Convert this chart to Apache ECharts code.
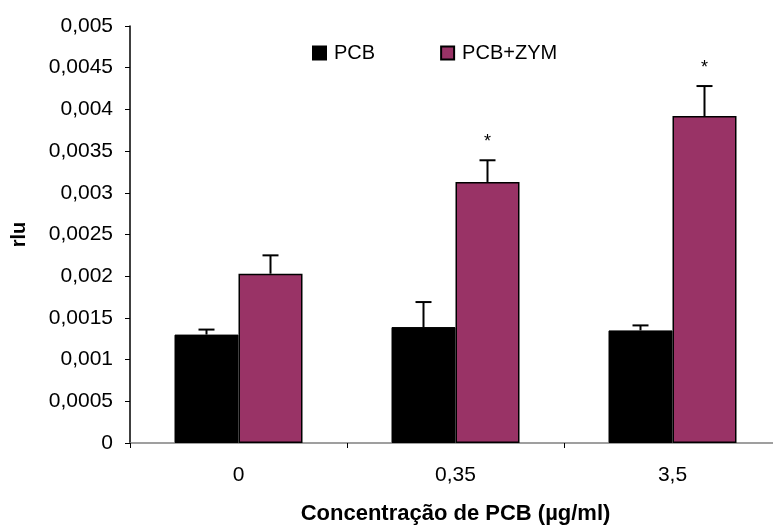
<!DOCTYPE html>
<html>
<head>
<meta charset="utf-8">
<script src="https://cdn.jsdelivr.net/npm/echarts@6/dist/echarts.min.js"></script>
<style>
  html, body { margin: 0; padding: 0; background: #fff; }
  #chart { width: 773px; height: 525px; }
</style>
</head>
<body>
<div id="chart"></div>
<script>
// PCB concentration groups (µg/ml)
const categories = ['0', '0,35', '3,5'];

// Mean luminescence (rlu) and standard error for each treatment
const pcbValues = [0.0013, 0.00139, 0.00135];
const pcbErrors = [0.00006, 0.00030, 0.00006];
const zymValues = [0.00203, 0.00313, 0.00392];
const zymErrors = [0.00022, 0.00026, 0.00036];

// Significance marks above the PCB+ZYM bars
const zymMarks = ['', '*', '*'];

// Y-axis ticks
const yMin = 0;
const yMax = 0.005;
const yStep = 0.0005;

const FONT = "'Liberation Sans', Arial, sans-serif";
const BAR_WIDTH = 64;
const ZYM_COLOR = '#993366';

function fmtComma(v) {
  if (v === 0) return '0';
  return String(+v.toFixed(4)).replace('.', ',');
}

// Upper-only error bars (and optional mark) drawn at a bar's centre
function errorBars(name, values, errors, marks, offset) {
  return {
    type: 'custom',
    name: name,
    z: 5,
    silent: true,
    data: values.map((v, i) => [i, v, errors[i]]),
    encode: { x: 0, y: 1 },
    renderItem: function (params, api) {
      const i = api.value(0);
      const v = api.value(1);
      const e = api.value(2);
      const top = api.coord([i, v]);
      const hi = api.coord([i, v + e]);
      const x = top[0] + offset;
      const children = [
        { type: 'line', shape: { x1: x, y1: top[1], x2: x, y2: hi[1] },
          style: { stroke: '#000', lineWidth: 2 } },
        { type: 'line', shape: { x1: x - 8, y1: hi[1], x2: x + 8, y2: hi[1] },
          style: { stroke: '#000', lineWidth: 2 } }
      ];
      const m = marks ? marks[params.dataIndex] : '';
      if (m) {
        children.push({
          type: 'text',
          style: {
            text: m, x: x, y: hi[1] - 9,
            align: 'center', verticalAlign: 'bottom',
            font: '18px ' + FONT, fill: '#000'
          }
        });
      }
      return { type: 'group', children: children };
    }
  };
}

const chart = echarts.init(document.getElementById('chart'));
chart.setOption({
  animation: false,
  backgroundColor: '#fff',
  textStyle: { fontFamily: FONT },
  grid: { left: 130, right: -8, top: 26, bottom: 82, containLabel: false, outerBoundsMode: 'none' },
  legend: {
    data: ['PCB', 'PCB+ZYM'],
    left: 312, top: 43, padding: 0,
    itemWidth: 13, itemHeight: 13, itemGap: 65,
    icon: 'rect',
    textStyle: { fontSize: 20, color: '#000', fontFamily: FONT, padding: [0, 0, 0, 3] }
  },
  xAxis: {
    type: 'category',
    data: categories,
    name: 'Concentração de PCB (µg/ml)',
    nameLocation: 'middle',
    nameGap: 60,
    nameTextStyle: { fontSize: 22, fontWeight: 'bold', color: '#000', fontFamily: FONT },
    axisLine: { lineStyle: { color: '#808080', width: 1.5 } },
    axisTick: { show: true, length: 5, inside: false, alignWithLabel: false,
                lineStyle: { color: '#000', width: 1 } },
    axisLabel: { fontSize: 21, color: '#000', margin: 22, fontFamily: FONT },
    splitLine: { show: false }
  },
  yAxis: {
    type: 'value',
    min: yMin, max: yMax, interval: yStep,
    name: 'rlu',
    nameLocation: 'middle',
    nameGap: 101,
    nameRotate: 90,
    nameTextStyle: { fontSize: 20, fontWeight: 'bold', color: '#000', fontFamily: FONT },
    axisLine: { show: true, lineStyle: { color: '#000', width: 1.5 } },
    axisTick: { show: true, length: 5, lineStyle: { color: '#000', width: 1 } },
    axisLabel: { fontSize: 21, color: '#000', margin: 17, formatter: fmtComma, fontFamily: FONT },
    splitLine: { show: false }
  },
  series: [
    {
      name: 'PCB', type: 'bar', data: pcbValues,
      barWidth: BAR_WIDTH, barGap: '0%',
      itemStyle: { color: '#000', borderColor: '#000', borderWidth: 1 }
    },
    {
      name: 'PCB+ZYM', type: 'bar', data: zymValues,
      barWidth: BAR_WIDTH, barGap: '0%',
      itemStyle: { color: ZYM_COLOR, borderColor: '#000', borderWidth: 1.5 }
    },
    errorBars('PCB erro', pcbValues, pcbErrors, null, -BAR_WIDTH / 2),
    errorBars('PCB+ZYM erro', zymValues, zymErrors, zymMarks, BAR_WIDTH / 2)
  ]
});
</script>
</body>
</html>
